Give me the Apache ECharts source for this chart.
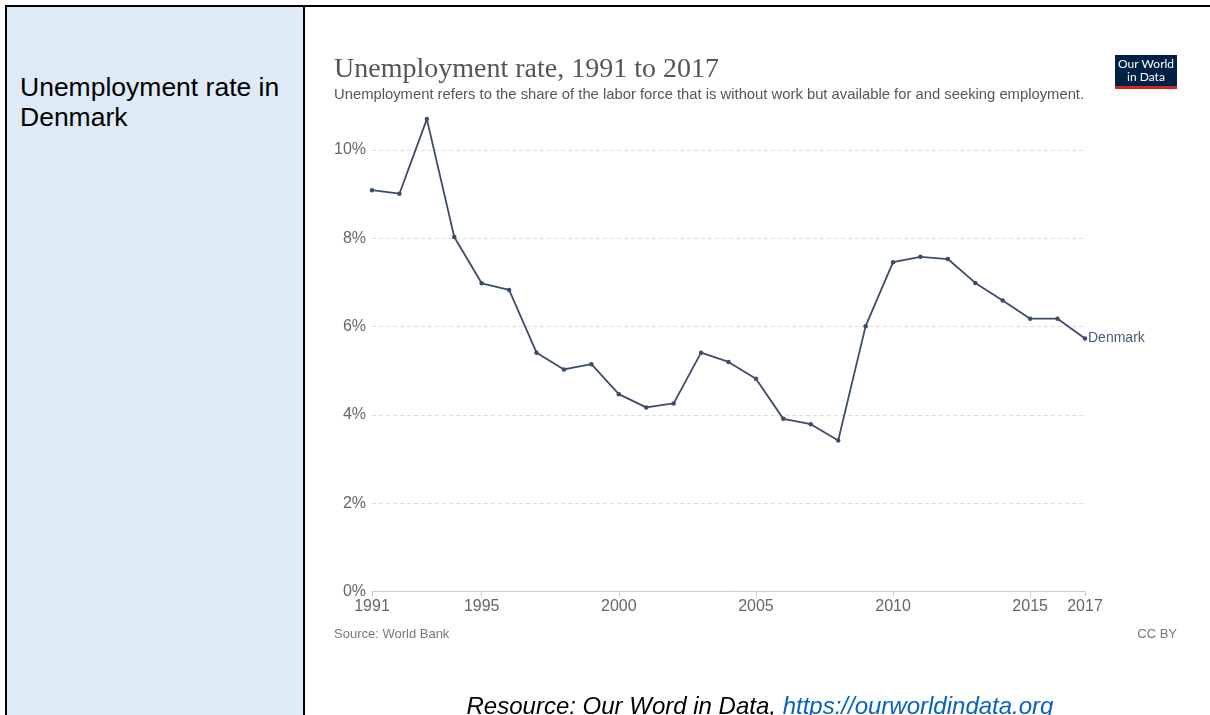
<!DOCTYPE html>
<html>
<head>
<meta charset="utf-8">
<script src="https://cdn.jsdelivr.net/npm/echarts@6/dist/echarts.min.js"></script>
<style>
  html, body { margin: 0; padding: 0; width: 1210px; height: 715px; overflow: hidden; background: #fff; }
  #topline { position: absolute; left: 5px; top: 5px; width: 1205px; height: 2px; background: #000; }
  #leftline { position: absolute; left: 5px; top: 5px; width: 2px; height: 710px; background: #000; }
  #divider { position: absolute; left: 303px; top: 5px; width: 2px; height: 710px; background: #000; }
  #leftcell { position: absolute; left: 7px; top: 7px; width: 296px; height: 708px; background: #deebf7; }
  #lefttext { position: absolute; left: 20px; top: 72px; font-family: "Liberation Sans", Arial, sans-serif; font-size: 26.5px; line-height: 30px; color: #000; }
  #caption { position: absolute; left: 305px; width: 910px; top: 692px; text-align: center; font-family: "Liberation Sans", Arial, sans-serif; font-style: italic; font-size: 24px; line-height: 28px; color: #000; white-space: nowrap; }
  #caption a { color: #0563c1; text-decoration: none; }
  #chart { position: absolute; left: 306px; top: 7px; width: 904px; height: 708px; }
</style>
</head>
<body>
<div id="leftcell"></div>
<div id="topline"></div>
<div id="leftline"></div>
<div id="divider"></div>
<div id="lefttext">Unemployment rate in<br>Denmark</div>
<div id="chart"></div>
<div id="caption">Resource: Our Word in Data, <a href="https://ourworldindata.org">https://ourworldindata.org</a></div>
<script>
const years = [1991,1992,1993,1994,1995,1996,1997,1998,1999,2000,2001,2002,2003,2004,2005,2006,2007,2008,2009,2010,2011,2012,2013,2014,2015,2016,2017];
const denmark = [9.09,9.01,10.70,8.03,6.98,6.83,5.41,5.03,5.15,4.47,4.17,4.26,5.41,5.20,4.82,3.91,3.79,3.42,6.01,7.46,7.58,7.53,6.99,6.59,6.18,6.18,5.73];
const xTickLabels = [1991,1995,2000,2005,2010,2015,2017];
const seriesName = 'Denmark';
const titleText = 'Unemployment rate, 1991 to 2017';
const subtitleText = 'Unemployment refers to the share of the labor force that is without work but available for and seeking employment.';
const sourceText = 'Source: World Bank';
const licenseText = 'CC BY';

const chart = echarts.init(document.getElementById('chart'), null, { renderer: 'canvas' });
const pts = years.map((y, i) => [y, denmark[i]]);

chart.setOption({
  animation: false,
  grid: { left: 66, right: 125, top: 143, bottom: 123.5, containLabel: false },
  xAxis: {
    type: 'value', min: 1991, max: 2017,
    axisLine: { show: true, lineStyle: { color: '#cccccc', width: 1 } },
    axisTick: { show: true, customValues: xTickLabels, length: 5, lineStyle: { color: '#cccccc' } },
    axisLabel: { customValues: xTickLabels, color: '#666666', fontSize: 16, margin: 7, fontFamily: 'Liberation Sans, Arial, sans-serif', formatter: v => String(v) },
    splitLine: { show: false }
  },
  yAxis: {
    type: 'value', min: 0, max: 10, interval: 2,
    axisLine: { show: false }, axisTick: { show: false },
    axisLabel: { color: '#666666', fontSize: 16, margin: 6, fontFamily: 'Liberation Sans, Arial, sans-serif', formatter: '{value}%' },
    splitLine: { show: true, lineStyle: { color: '#dddddd', type: [4, 3], width: 1 } }
  },
  series: [{
    name: seriesName, type: 'line', data: pts, clip: false,
    symbol: 'circle', symbolSize: 4.5, showSymbol: true,
    lineStyle: { color: '#3d4c6b', width: 1.8 },
    itemStyle: { color: '#3d4c6b' },
    endLabel: { show: true, formatter: seriesName, color: '#4a5a78', fontSize: 14, distance: 3, fontFamily: 'Liberation Sans, Arial, sans-serif' },
    emphasis: { disabled: true }
  }],
  graphic: [
    { type: 'text', left: 28, top: 49, style: { text: titleText, fontFamily: 'Liberation Serif, serif', fontSize: 28, fill: '#555555' } },
    { type: 'text', left: 28, top: 80, style: { text: subtitleText, fontFamily: 'Liberation Sans, Arial, sans-serif', fontSize: 14.8, fill: '#555555' } },
    { type: 'rect', shape: { x: 809, y: 48, width: 62, height: 31 }, style: { fill: '#002147' } },
    { type: 'rect', shape: { x: 809, y: 79, width: 62, height: 3 }, style: { fill: '#ce261e' } },
    { type: 'text', x: 840, y: 51, style: { text: 'Our World', align: 'center', fontFamily: 'Lato, sans-serif', fontSize: 12, fill: '#ffffff' } },
    { type: 'text', x: 840, y: 64, style: { text: 'in Data', align: 'center', fontFamily: 'Lato, sans-serif', fontSize: 12, fill: '#ffffff' } },
    { type: 'text', left: 28, top: 621, style: { text: sourceText, fontFamily: 'Liberation Sans, Arial, sans-serif', fontSize: 13, fill: '#777777' } },
    { type: 'text', x: 871, y: 621, style: { text: licenseText, align: 'right', fontFamily: 'Liberation Sans, Arial, sans-serif', fontSize: 13, fill: '#777777' } }
  ]
});
</script>
</body>
</html>
